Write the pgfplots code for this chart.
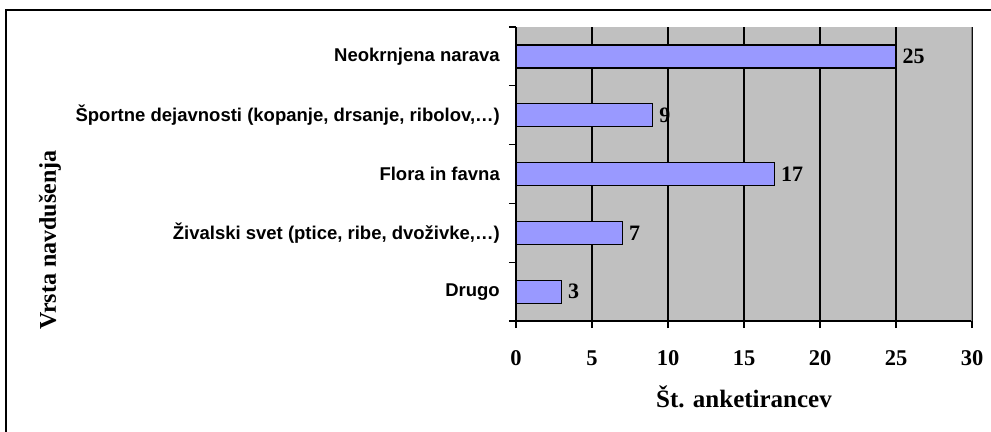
\documentclass[border=0pt]{standalone}
\usepackage{pgfplots}
\pgfplotsset{compat=1.18}
\usepackage{fontspec}
\setmainfont{Liberation Serif}
\newfontfamily\arial{Liberation Sans}
\definecolor{bggray}{HTML}{C0C0C0}
\definecolor{barblue}{HTML}{9999FF}
\definecolor{edgegray}{HTML}{808080}
\begin{document}
\begin{tikzpicture}
\useasboundingbox (0,0) rectangle (991bp,-432bp);
\fill[white] (0,0) rectangle (991bp,-432bp);
\draw[line width=1.8bp] (6bp,-432bp) -- (6bp,-10bp) -- (991bp,-10bp);
\begin{axis}[
  at={(516bp,-321bp)}, anchor=south west,
  scale only axis, width=456bp, height=294bp,
  xbar, bar width=23bp,
  xmin=0, xmax=30, ymin=-0.5, ymax=4.5,
  axis x line*=bottom, axis y line*=left,
  axis line style={-, line width=1.2bp, black},
  axis background/.style={fill=bggray},
  xtick={0,5,...,30},
  xmajorgrids, major grid style={black, line width=1.1bp},
  ytick={-0.5,0.5,...,4.5},
  yticklabels={{},{Drugo},{Živalski svet (ptice, ribe, dvoživke,…)},{Flora in favna},{Športne dejavnosti (kopanje, drsanje, ribolov,…)},{Neokrnjena narava}},
  tick align=outside, major tick length=7bp,
  tick style={black, line width=1.2bp},
  /pgf/number format/assume math mode=true,
  xticklabel style={font=\fontsize{22.5bp}{22.5bp}\selectfont\bfseries, anchor=center, yshift=-30bp, inner sep=0pt},
  yticklabel style={font=\arial\bfseries\fontsize{18.5bp}{20bp}\selectfont, anchor=east, inner sep=0pt, xshift=-9bp, yshift=-29.4bp},
  xlabel={Št. anketirancev},
  xlabel style={font=\fontsize{25bp}{25bp}\selectfont\bfseries, at={(axis description cs:0.5,0)}, anchor=center, yshift=-76bp},
  ylabel={Vrsta navdušenja},
  ylabel style={font=\fontsize{24bp}{24bp}\selectfont\bfseries, at={(axis description cs:0,0.2755)}, anchor=center, rotate=0, yshift=466bp},
  nodes near coords,
  nodes near coords style={font=\fontsize{22bp}{22bp}\selectfont\bfseries, anchor=west, inner sep=0pt, xshift=6bp, black},
]
\addplot[fill=barblue, draw=black, line width=1.2bp] coordinates {(3,0) (7,1) (17,2) (9,3) (25,4)};
\draw[edgegray, line width=1.5bp] (axis cs:30,-0.5) -- (axis cs:30,4.5);
\end{axis}
\end{tikzpicture}
\end{document}
